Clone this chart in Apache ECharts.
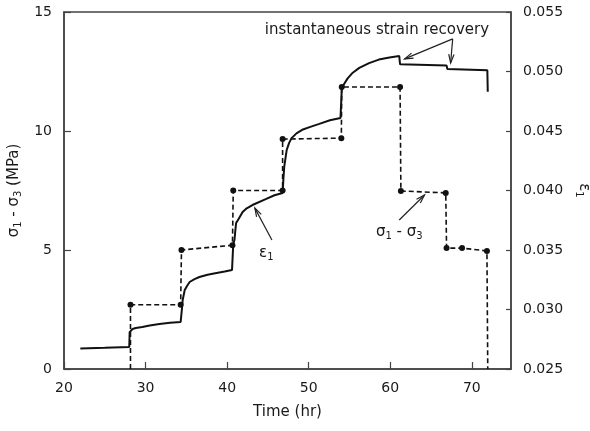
<!DOCTYPE html>
<html>
<head>
<meta charset="utf-8">
<script src="https://cdn.jsdelivr.net/npm/echarts@6/dist/echarts.min.js"></script>
<style>
  html, body { margin: 0; padding: 0; background: #fff; }
  #chart { width: 590px; height: 431px; }
</style>
</head>
<body>
<div id="chart"></div>
<script>
// strain eps1 vs time (hr), right axis
var strainTime = [22.0, 25.0, 28.0, 28.05, 28.2, 28.4, 28.8, 29.6, 30.5, 31.7, 33.0, 34.3,
  34.45, 34.55, 34.8, 35.1, 35.4, 36.0, 36.6, 37.6, 38.7, 39.7, 40.6,
  40.75, 40.9, 41.0, 41.1, 41.4, 41.9, 42.4, 43.1, 44.8, 45.8, 46.8,
  46.9, 47.0, 47.3, 47.6, 47.9, 48.5, 49.2, 50.2, 51.3, 52.6, 53.9,
  54.05, 54.3, 54.75, 55.4, 56.2, 57.4, 58.6, 59.9, 61.1,
  61.2, 66.9, 67.0, 71.9, 71.95];
var strainVal = [0.02672, 0.02678, 0.02685, 0.0281, 0.02825, 0.02836, 0.02845, 0.02853, 0.02866, 0.02878, 0.02888, 0.02895,
  0.0300, 0.0308, 0.03164, 0.0320, 0.03231, 0.03255, 0.03273, 0.03292, 0.03307, 0.0332, 0.03332,
  0.0355, 0.03584, 0.0366, 0.03727, 0.0376, 0.03819, 0.0385, 0.03878, 0.03929, 0.0396, 0.03979,
  0.0410, 0.0420, 0.0434, 0.0440, 0.0444, 0.0448, 0.0451, 0.04535, 0.0456, 0.0459, 0.0461,
  0.0485, 0.0489, 0.0494, 0.0499, 0.0503, 0.0507, 0.0510, 0.05118, 0.0513,
  0.0506, 0.0505, 0.0502, 0.0501, 0.0483];

// deviator stress sigma1 - sigma3 (MPa), left axis
var stressTime = [28.15, 28.15, 34.3, 34.4, 40.65, 40.75, 46.8, 46.8, 54.0, 54.05, 61.2, 61.3, 66.8, 66.9, 68.8, 71.85, 71.95];
var stressVal = [0, 2.7, 2.7, 5.0, 5.2, 7.5, 7.5, 9.66, 9.7, 11.85, 11.85, 7.48, 7.4, 5.08, 5.08, 4.96, 0];
var stressDot = [0, 1, 1, 1, 1, 1, 1, 1, 1, 1, 1, 1, 1, 1, 1, 1, 0];

var timeTicks = [20, 30, 40, 50, 60, 70];

var chart = echarts.init(document.getElementById("chart"));

var strainData = strainTime.map(function (t, i) {
  return [t, strainVal[i]];
});
var stressData = stressTime.map(function (t, i) {
  return {
    value: [t, stressVal[i]],
    symbol: stressDot[i] ? "circle" : "none"
  };
});

var txt = "#1a1a1a";
var ax = "#444";
var font = "DejaVu Sans";
var subRich = {
  a: { fontSize: 15, fontFamily: font, color: txt },
  s: { fontSize: 10, fontFamily: font, color: txt, padding: [9, 0, 0, 0] }
};

chart.setOption({
  animation: false,
  grid: {
    left: 64,
    top: 12,
    right: 79,
    bottom: 62,
    outerBoundsMode: "none",
    containLabel: false,
    show: true,
    borderColor: ax,
    borderWidth: 1.5
  },
  xAxis: {
    type: "value",
    min: timeTicks[0],
    max: 74.8,
    interval: 10,
    name: "Time (hr)",
    nameLocation: "middle",
    nameGap: 36,
    nameTextStyle: { fontSize: 15, fontFamily: font, color: txt },
    axisLine: { lineStyle: { color: ax, width: 1.5 } },
    axisTick: { inside: true, length: 7, lineStyle: { color: ax, width: 1.2 } },
    axisLabel: { fontSize: 14, fontFamily: font, color: txt, margin: 12, showMaxLabel: false },
    splitLine: { show: false }
  },
  yAxis: [
    {
      type: "value",
      min: 0,
      max: 15,
      interval: 5,
      name: "{a|σ}{s|1}{a| - σ}{s|3}{a| (MPa)}",
      nameLocation: "middle",
      nameGap: 38,
      nameTextStyle: { rich: subRich },
      axisLine: { show: true, lineStyle: { color: ax, width: 1.5 } },
      axisTick: { inside: true, length: 7, lineStyle: { color: ax, width: 1.2 } },
      axisLabel: { fontSize: 14, fontFamily: font, color: txt, margin: 12 },
      splitLine: { show: false }
    },
    {
      type: "value",
      position: "right",
      min: 0.025,
      max: 0.055,
      interval: 0.005,
      name: "{a|ε}{s|1}",
      nameLocation: "middle",
      nameGap: 62,
      nameRotate: -90,
      nameTextStyle: { rich: subRich },
      axisLine: { show: true, lineStyle: { color: ax, width: 1.5 } },
      axisTick: { inside: true, length: 5, lineStyle: { color: ax, width: 1.2 } },
      axisLabel: {
        fontSize: 14, fontFamily: font, color: txt, margin: 12,
        formatter: function (v) { return v.toFixed(3); }
      },
      splitLine: { show: false }
    }
  ],
  series: [
    {
      name: "σ1 - σ3",
      type: "line",
      yAxisIndex: 0,
      data: stressData,
      showAllSymbol: true,
      symbolSize: 6,
      itemStyle: { color: "#111" },
      lineStyle: { color: "#111", width: 1.6, type: [5, 3] }
    },
    {
      name: "ε1",
      type: "line",
      yAxisIndex: 1,
      data: strainData,
      symbol: "none",
      lineStyle: { color: "#111", width: 2 }
    }
  ]
});

// annotations, anchored in data coordinates (hr, MPa)
function px(p) {
  return chart.convertToPixel({ xAxisIndex: 0, yAxisIndex: 0 }, p);
}
function arrow(from, to) {
  var a = px(from), b = px(to);
  var ang = Math.atan2(b[1] - a[1], b[0] - a[0]);
  var L = 9, th = 0.3;
  var h1 = [b[0] - L * Math.cos(ang - th), b[1] - L * Math.sin(ang - th)];
  var h2 = [b[0] - L * Math.cos(ang + th), b[1] - L * Math.sin(ang + th)];
  return [
    { type: "polyline", shape: { points: [a, b] }, style: { stroke: "#222", lineWidth: 1.2, fill: null } },
    { type: "polyline", shape: { points: [h1, b, h2] }, style: { stroke: "#222", lineWidth: 1.2, fill: null } }
  ];
}
function label(p, text) {
  var q = px(p);
  return {
    type: "text",
    x: q[0],
    y: q[1],
    style: {
      text: text,
      rich: subRich,
      font: "15px " + font,
      fill: txt,
      align: "center",
      verticalAlign: "middle"
    }
  };
}

var g = [];
g.push(label([58.36, 14.24], "{a|instantaneous strain recovery}"));
g = g.concat(arrow([67.65, 13.87], [61.76, 13.03]));
g = g.concat(arrow([67.65, 13.87], [67.4, 12.86]));
g = g.concat(arrow([45.49, 5.42], [43.4, 6.76]));
g.push(label([44.8, 4.87], "{a|ε}{s|1}"));
g = g.concat(arrow([61.1, 6.26], [64.2, 7.31]));
g.push(label([61.1, 5.76], "{a|σ}{s|1}{a| - σ}{s|3}"));

chart.setOption({ graphic: g });
</script>
</body>
</html>
